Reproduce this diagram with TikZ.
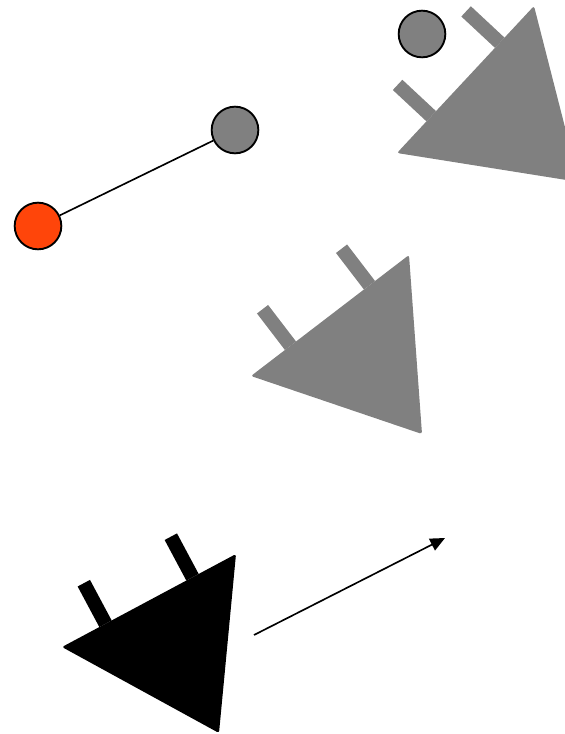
\documentclass[tikz,border=0pt]{standalone}
\usepackage{tikz}
\usetikzlibrary{arrows.meta, calc}

\definecolor{plugorange}{RGB}{255,69,10}
\definecolor{pluggray}{RGB}{128,128,128}

% triangle with two legs on the edge #1--#2
\newcommand{\plugshape}[4]{%
  \fill[#4, rounded corners=2pt] (#1) -- (#2) -- (#3) -- cycle;
  \foreach \f in {0.25,0.75} {
    \coordinate (p) at ($(#1)!\f!(#2)$);
    \draw[#4, leg] (p) -- ($(p)!1.38cm!-90:(#2)$);
  }
}

\tikzset{
  dot/.style={circle, draw, line width=1.6pt, minimum size=1.4cm, inner sep=0pt},
  link/.style={line width=1.4pt},
  leg/.style={line width=0.42cm}
}

\begin{document}
\begin{tikzpicture}[x=0.03cm, y=-0.03cm, >={Triangle[length=4.4mm, width=3.9mm]}]
  \useasboundingbox (0,0) rectangle (565,734);
  \clip (0,0) rectangle (565,734);
  % Orange and grey circles, joined
  \node[dot, fill=plugorange] (orange) at (38,226) {};
  \node[dot, fill=pluggray] (grey) at (235,130) {};
  \draw[link] (orange) -- (grey);
  % Lone circle at the top
  \node[dot, fill=pluggray] (greytop) at (422,34) {};
  % Top triangle
  \plugshape{534,6}{397,153}{579,182}{pluggray}
  % Middle triangle
  \plugshape{409,255}{251,376}{422,434}{pluggray}
  % Black triangle
  \plugshape{236,554}{62,647}{219,733}{black}
  % Arrow
  \coordinate (from) at (254,635);
  \coordinate (to) at (445,538);
  \draw[link, ->] (from) -- (to);
\end{tikzpicture}
\end{document}
